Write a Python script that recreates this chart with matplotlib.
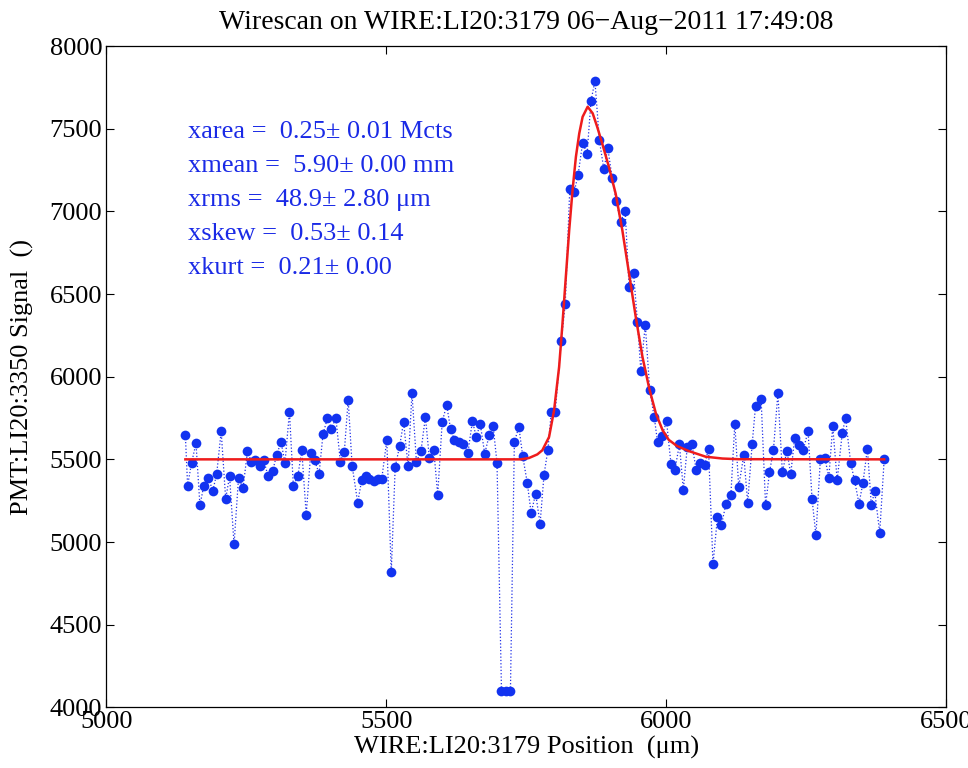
import numpy as np
import matplotlib
matplotlib.use("Agg")
import matplotlib.pyplot as plt

plt.rcParams["font.family"] = ["Liberation Serif", "DejaVu Serif"]

TITLE = "Wirescan on WIRE:LI20:3179 06\u2212Aug\u22122011 17:49:08"
XLABEL = "WIRE:LI20:3179 Position  (\u03bcm)"
YLABEL = "PMT:LI20:3350 Signal  ()"

# scan samples (wire position um, PMT signal)
pos = [5141, 5145, 5152, 5160, 5167, 5174, 5182, 5190, 5197, 5205, 5213, 5220, 5228, 5236, 5244,
       5252, 5259, 5266, 5274, 5281, 5289, 5297, 5304, 5312, 5319, 5327, 5334, 5342, 5349, 5357,
       5365, 5372, 5380, 5387, 5395, 5402, 5410, 5418, 5425, 5432, 5439, 5449, 5456, 5464, 5470,
       5478, 5485, 5492, 5501, 5509, 5516, 5524, 5531, 5539, 5546, 5554, 5562, 5570, 5577, 5585,
       5592, 5600, 5608, 5615, 5622, 5630, 5638, 5646, 5654, 5661, 5668, 5676, 5684, 5691, 5698,
       5706, 5714, 5722, 5729, 5737, 5744, 5752, 5759, 5767, 5775, 5782, 5789, 5795, 5802, 5813,
       5820, 5828, 5836, 5843, 5851, 5859, 5866, 5873, 5881, 5889, 5896, 5904, 5911, 5919, 5927,
       5934, 5942, 5949, 5955, 5963, 5971, 5979, 5985, 5993, 6001, 6009, 6016, 6024, 6031, 6038,
       6046, 6054, 6061, 6069, 6076, 6084, 6092, 6099, 6107, 6116, 6123, 6130, 6139, 6146, 6154,
       6160, 6170, 6178, 6185, 6192, 6200, 6208, 6216, 6223, 6230, 6238, 6245, 6254, 6261, 6268,
       6276, 6284, 6291, 6298, 6306, 6315, 6321, 6330, 6337, 6345, 6352, 6360, 6367, 6373, 6382,
       6390]
signal = [5645, 5341, 5478, 5597, 5222, 5341, 5389, 5310, 5413, 5670, 5262, 5397, 4985, 5389, 5324,
          5550, 5482, 5494, 5462, 5494, 5397, 5429, 5526, 5605, 5478, 5787, 5341, 5397, 5556, 5165,
          5540, 5494, 5413, 5653, 5750, 5686, 5750, 5486, 5542, 5861, 5462, 5238, 5373, 5397, 5383,
          5367, 5383, 5383, 5615, 4816, 5454, 5581, 5726, 5460, 5901, 5484, 5548, 5756, 5510, 5556,
          5286, 5726, 5829, 5683, 5615, 5605, 5595, 5540, 5732, 5635, 5716, 5534, 5645, 5702, 5478,
          4100, 4100, 4100, 5605, 5696, 5518, 5359, 5175, 5292, 5111, 5407, 5559, 5787, 5787, 6219,
          6442, 7134, 7118, 7223, 7415, 7350, 7669, 7788, 7429, 7254, 7381, 7199, 7064, 6936, 7005,
          6545, 6626, 6331, 6037, 6315, 5918, 5756, 5603, 5643, 5730, 5470, 5438, 5591, 5317, 5575,
          5595, 5438, 5480, 5464, 5565, 4864, 5151, 5101, 5228, 5286, 5716, 5335, 5524, 5238, 5591,
          5821, 5867, 5222, 5423, 5554, 5901, 5423, 5550, 5413, 5629, 5585, 5554, 5670, 5262, 5040,
          5504, 5510, 5389, 5700, 5373, 5659, 5750, 5480, 5373, 5232, 5357, 5565, 5222, 5308, 5056,
          5502]

# fitted profile
fit_x = [5141, 5740, 5755, 5770, 5779, 5791, 5800, 5809, 5815, 5821, 5827, 5833, 5839, 5845, 5851,
         5860, 5869, 5877, 5886, 5898, 5910, 5922, 5934, 5946, 5958, 5970, 5982, 5994, 6005, 6020,
         6041, 6071, 6101, 6130, 6390]
fit_y = [5500, 5500, 5508, 5530, 5555, 5635, 5797, 6059, 6321, 6604, 6886, 7128, 7330, 7472, 7572,
         7633, 7593, 7512, 7411, 7269, 7108, 6886, 6624, 6361, 6119, 5930, 5777, 5676, 5618, 5580,
         5550, 5516, 5505, 5501, 5500]

stats = [
    "xarea =  0.25\u00b1 0.01 Mcts",
    "xmean =  5.90\u00b1 0.00 mm",
    "xrms =  48.9\u00b1 2.80 \u03bcm",
    "xskew =  0.53\u00b1 0.14",
    "xkurt =  0.21\u00b1 0.00",
]

fig = plt.figure(figsize=(9.68, 7.68), dpi=100)
ax = fig.add_axes([0.110, 0.079, 0.867, 0.861])

ax.plot(pos, signal, ":", color="#1f2fe8", lw=0.9, zorder=2)
ax.plot(pos, signal, "o", color="#1233f0", ms=7, mec="none", zorder=3)
ax.plot(fit_x, fit_y, "-", color="#ee1c1c", lw=1.8, zorder=4)

ax.set_xlim(5000, 6500)
ax.set_ylim(4000, 8000)
ax.set_xticks([5000, 5500, 6000, 6500])
ax.set_yticks(np.arange(4000, 8001, 500))
ax.tick_params(direction="in", top=True, right=True, labelsize=19, length=6, width=0.8, pad=3)
for s in ax.spines.values():
    s.set_linewidth(0.9)

ax.set_title(TITLE, fontsize=20, pad=12)
ax.set_xlabel(XLABEL, fontsize=19, labelpad=2)
ax.set_ylabel(YLABEL, fontsize=19, labelpad=11)

for i, line in enumerate(stats):
    ax.text(0.097, 0.861 - i * 0.0514, line, transform=ax.transAxes,
            fontsize=19, color="#1a2ae6", va="baseline")

fig.savefig("out.png", dpi=100)
